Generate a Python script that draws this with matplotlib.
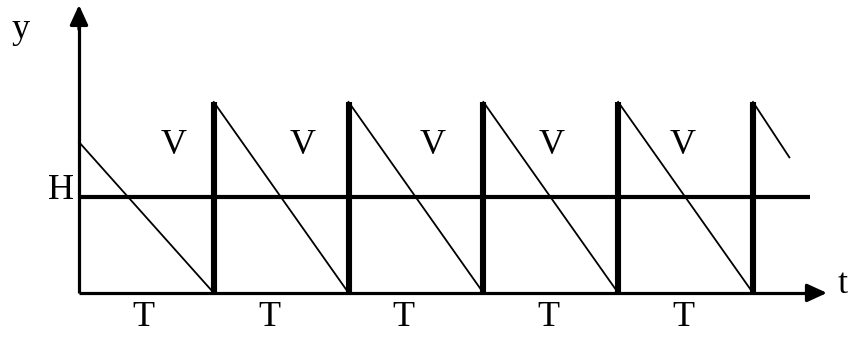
import matplotlib
matplotlib.use("Agg")
import matplotlib.pyplot as plt

# sawtooth diagram, t measured in periods T, y scaled so the peak is 1
tooth_times = [1, 2, 3, 4, 5]
peak = 1.0
first_start = 0.79
last_t = 5.27
last_y = 0.71
h_level = 0.5
h_end = 5.42

v_labels = ["V", "V", "V", "V", "V"]
v_pos = [0.70, 1.66, 2.62, 3.51, 4.48]
v_height = 0.77
t_labels = ["T", "T", "T", "T", "T"]
t_pos = [0.475, 1.41, 2.41, 3.48, 4.48]

fig = plt.figure(figsize=(8.48, 3.38), dpi=100)
ax = fig.add_axes([0, 0, 1, 1])
ax.set_xlim(-0.586, 5.705)
ax.set_ylim(-0.236, 1.534)
ax.axis("off")

font = dict(family=["Liberation Serif", "DejaVu Serif"], size=26, color="black")
arrow = dict(arrowstyle="-|>,head_length=1.2,head_width=0.55",
             color="black", lw=2.3, shrinkA=0, shrinkB=0)

# axes with arrow heads
ax.plot([0, 0], [0, 1.42], color="black", lw=2.3, solid_capstyle="butt")
ax.plot([0, 5.45], [0, 0], color="black", lw=2.3, solid_capstyle="butt")
ax.annotate("", xy=(0, 1.508), xytext=(0, 1.38), arrowprops=arrow)
ax.annotate("", xy=(5.549, 0), xytext=(5.40, 0), arrowprops=arrow)

# threshold line H
ax.plot([0, h_end], [h_level, h_level], color="black", lw=3.0,
        solid_capstyle="butt")

# thin diagonals
ax.plot([0, tooth_times[0]], [first_start, 0], color="black", lw=1.3)
for a, b in zip(tooth_times[:-1], tooth_times[1:]):
    ax.plot([a, b], [peak, 0], color="black", lw=1.3)
ax.plot([tooth_times[-1], last_t], [peak, last_y], color="black", lw=1.3)

# thick jumps
for t in tooth_times:
    ax.plot([t, t], [0, peak], color="black", lw=4.4, solid_capstyle="butt")

for lab, x in zip(v_labels, v_pos):
    ax.text(x, v_height, lab, ha="center", va="center", **font)
for lab, x in zip(t_labels, t_pos):
    ax.text(x, -0.13, lab, ha="center", va="center", **font)

ax.text(-0.435, 1.38, "y", ha="center", va="center", **font)
ax.text(-0.04, 0.535, "H", ha="right", va="center", **font)
ax.text(5.625, 0.045, "t", ha="left", va="center", **font)

fig.savefig("out.png", dpi=100)
